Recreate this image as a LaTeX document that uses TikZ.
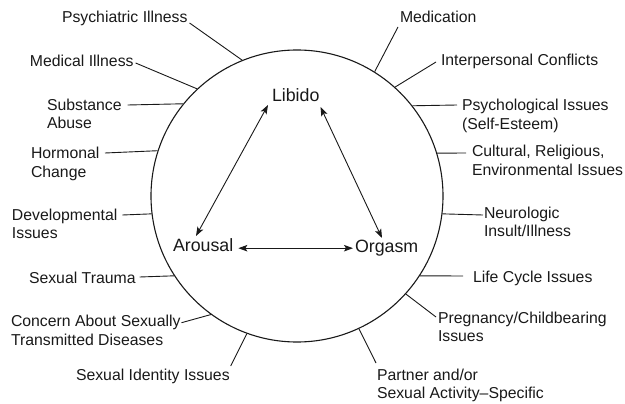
\documentclass[tikz,border=0pt]{standalone}
\usepackage{fontspec}
\setmainfont{Liberation Sans}
\usetikzlibrary{arrows.meta,calc}
\begin{document}
\begin{tikzpicture}[x=1pt,y=-1pt,
  lab/.style={inner sep=0pt, outer sep=0pt, align=left, font=\fontsize{15.8}{18.3}\selectfont, anchor=base west, text=black!90},
  core/.style={inner sep=0pt, outer sep=0pt, font=\fontsize{17.8}{20}\selectfont, anchor=base west, text=black!90},
  lead/.style={line width=0.9pt, draw=black!90},
  dbl/.style={line width=0.9pt, draw=black!90, {Stealth[length=9pt,width=6.5pt,inset=2pt]}-{Stealth[length=9pt,width=6.5pt,inset=2pt]}}]
\useasboundingbox (0,0) rectangle (625,404);
\node[circle, draw=black!90, line width=1.1pt, minimum size=292pt, inner sep=0pt] (C) at (297,196) {};
% core nodes
\node[core] (lib) at (272,101.7) {Libido};
\node[core] (aro) at (173,251.7) {Arousal};
\node[core] (org) at (355,252.7) {Orgasm};
\draw[dbl] ($(lib.base west)+(-4,3.3)$) -- ($(aro.base west)+(23,-15.7)$);
\draw[dbl] ($(lib.base east)+(1,5.3)$) -- ($(org.base west)+(27,-14.7)$);
\draw[dbl] ($(aro.base east)+(5,-3.5)$) -- ($(org.base west)+(-2,-4.5)$);
% left labels (for two-line labels, base is the baseline of the last line)
\node[lab] (psy) at (62,23) {Psychiatric Illness};
\node[lab] (med) at (30,66.5) {Medical Illness};
\node[lab] (sub) at (47,128.8) {Substance\\Abuse};
\node[lab] (hor) at (31,177.3) {Hormonal\\Change};
\node[lab] (dev) at (12,238.8) {Developmental\\Issues};
\node[lab] (tra) at (29,283) {Sexual Trauma};
\node[lab] (con) at (11,345) {Concern About Sexually\\Transmitted Diseases};
\node[lab] (ide) at (76,380) {Sexual Identity Issues};
% right labels
\node[lab] (mdc) at (400,23) {Medication};
\node[lab] (int) at (441,66) {Interpersonal Conflicts};
\node[lab] (pch) at (462,129.3) {Psychological Issues\\(Self-Esteem)};
\node[lab] (cul) at (472,175.3) {Cultural, Religious,\\Environmental Issues};
\node[lab] (neu) at (484,236.8) {Neurologic\\Insult/Illness};
\node[lab] (lif) at (473,282) {Life Cycle Issues};
\node[lab] (pre) at (438,341.3) {Pregnancy/Childbearing\\Issues};
\node[lab] (par) at (377,398.3) {Partner and/or\\Sexual Activity–Specific};
% leaders
\draw[lead] ($(psy.base east)+(2,0)$) -- (C.112.9);
\draw[lead] ($(med.base east)+(2,-3.5)$) -- (C.133.3);
\draw[lead] ($(sub.base east)+(6,-23.8)$) -- (C.141.4);
\draw[lead] ($(hor.base east)+(5.5,-24.3)$) -- (C.162.9);
\draw[lead] ($(dev.base east)+(5,-23.8)$) -- (C.187.5);
\draw[lead] ($(tra.base east)+(4,-6)$) -- (C.213.7);
\draw[lead] ($(con.base east)+(1,-22.3)$) -- (C.234.1);
\draw[lead] ($(ide.base east)+(1,-14)$) -- (C.250.6);
\draw[lead] ($(mdc.base west)+(-2,4)$) -- (C.58.9);
\draw[lead] ($(int.base west)+(-5,-4)$) -- (C.48.9);
\draw[lead] ($(pch.base west)+(-5,-24.3)$) -- (C.38.6);
\draw[lead] ($(cul.base west)+(-6,-22.3)$) -- (C.17.1);
\draw[lead] ($(neu.base west)+(-1,-21.8)$) -- (C.-7.5);
\draw[lead] ($(lif.base west)+(-10,-6)$) -- (C.-33.2);
\draw[lead] ($(pre.base west)+(-2,-24.3)$) -- (C.-42.8);
\draw[lead] ($(par.base west)+(-1,-35.3)$) -- (C.-65.5);
\end{tikzpicture}
\end{document}
